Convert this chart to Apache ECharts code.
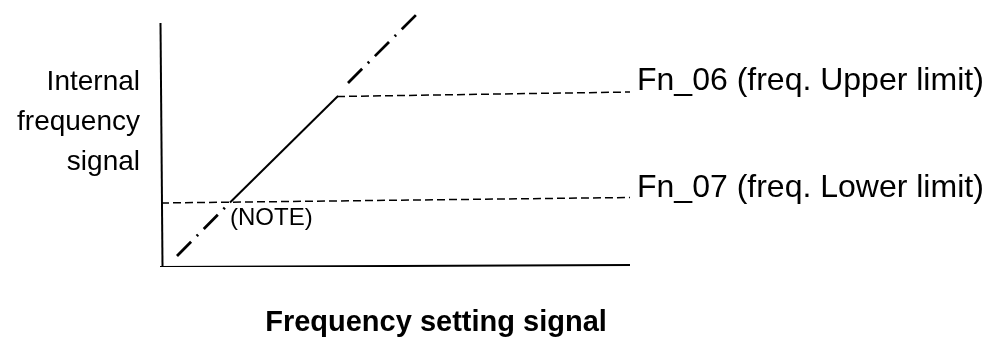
<!DOCTYPE html>
<html>
<head>
<meta charset="utf-8">
<script src="https://cdn.jsdelivr.net/npm/echarts@6/dist/echarts.min.js"></script>
<style>
  html, body { margin: 0; padding: 0; background: #fff; }
  #chart { width: 992px; height: 338px; }
</style>
</head>
<body>
<div id="chart"></div>
<script>
// frame of the diagram (x: setting signal, y: internal frequency), scan is a bit tilted
const xAxisLine = [[0, -0.1], [47, 0.1]]
const yAxisLine = [[0.25, 0], [0.05, 24.3]]
// limit levels
const upperLimit = [[17.7, 16.95], [47, 17.4]]
const lowerLimit = [[0.1, 6.3], [47, 6.85]]
// internal frequency follows the setting between the limits
const rampSolid = [[7.0, 6.35], [17.8, 17.0]]
const rampBelow = [[1.7, 1.0], [7.0, 6.35]]
const rampAbove = [[18.8, 18.3], [25.7, 25.2]]
const notePoint = [[7.0, 6.35]]
const limitLabels = ['Fn_06 (freq. Upper limit)', 'Fn_07 (freq. Lower limit)']
const noteLabel = '(NOTE)'
const yTitle = 'Internal\nfrequency\nsignal'
const xTitle = 'Frequency setting signal'

const font = 'Liberation Sans, Arial, sans-serif'
const chart = echarts.init(document.getElementById('chart'))

function line (data, width, type, extra) {
  return Object.assign({
    type: 'line',
    data: data,
    symbol: 'none',
    silent: true,
    animation: false,
    lineStyle: { color: '#000', width: width, type: type, cap: 'butt' }
  }, extra || {})
}

function limitLabel (text, dy) {
  return {
    show: true, formatter: text, distance: 7, offset: [0, dy],
    fontFamily: font, fontSize: 32, color: '#000'
  }
}

chart.setOption({
  backgroundColor: '#fff',
  animation: false,
  grid: { left: 160, right: 362, top: 6, bottom: 72 },
  xAxis: {
    type: 'value', min: 0, max: 47, show: false
  },
  yAxis: {
    type: 'value', min: 0, max: 26, show: false
  },
  graphic: [{
    type: 'text', x: 140, y: 122, silent: true,
    style: {
      text: yTitle, fontFamily: font, fontSize: 28, lineHeight: 40,
      align: 'right', verticalAlign: 'middle', fill: '#000'
    }
  }, {
    type: 'text', x: 436, y: 323, silent: true,
    style: {
      text: xTitle, fontFamily: font, fontSize: 29, fontWeight: 'bold',
      align: 'center', verticalAlign: 'middle', fill: '#000'
    }
  }],
  series: [
    line(xAxisLine, 2, 'solid'),
    line(yAxisLine, 2, 'solid'),
    line(upperLimit, 1.5, [8, 4], { endLabel: limitLabel(limitLabels[0], -11) }),
    line(lowerLimit, 1.5, [8, 4], { endLabel: limitLabel(limitLabels[1], -9) }),
    line(rampSolid, 2, 'solid'),
    line(rampBelow, 2.8, [20, 8, 2, 8]),
    line(rampAbove, 2.8, [20, 8, 2, 8]),
    {
      type: 'scatter',
      data: notePoint,
      symbolSize: 0,
      silent: true,
      itemStyle: { opacity: 1, color: '#000' },
      label: {
        show: true, formatter: noteLabel, position: 'right', distance: 0, offset: [0, 16],
        fontFamily: font, fontSize: 24, color: '#000', opacity: 1
      }
    }
  ]
})
</script>
</body>
</html>
